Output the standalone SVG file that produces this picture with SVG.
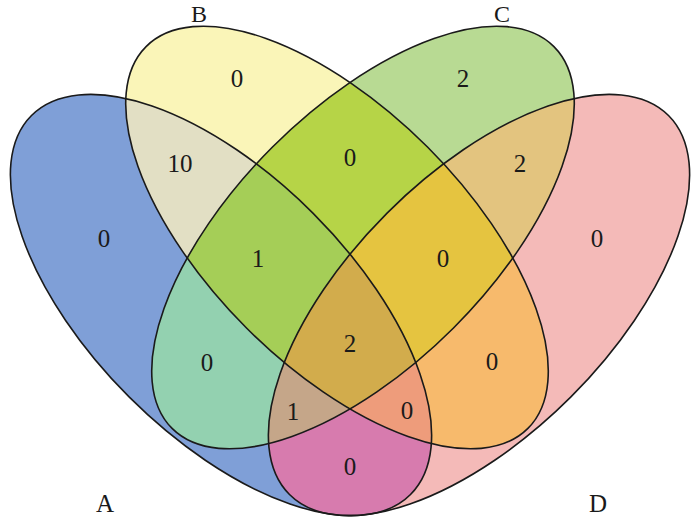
<svg xmlns="http://www.w3.org/2000/svg" xmlns:xlink="http://www.w3.org/1999/xlink" width="700" height="525" viewBox="0 0 700 525">
<style>
.out{fill:none;stroke:#1a1a1a;stroke-width:1.6}
.t{font-family:"Liberation Serif","Times New Roman",serif;font-size:25px;fill:#1a1a1a;text-anchor:middle}
.lt{font-size:24px}
</style>
<defs>
<ellipse id="eA" cx="221" cy="305" rx="268" ry="130" transform="rotate(45 221 305)"/>
<ellipse id="eB" cx="337" cy="237.5" rx="270" ry="128" transform="rotate(45 337 237.5)"/>
<ellipse id="eC" cx="363" cy="237.5" rx="270" ry="128" transform="rotate(-45 363 237.5)"/>
<ellipse id="eD" cx="479" cy="305" rx="268" ry="130" transform="rotate(-45 479 305)"/>
<clipPath id="cA"><use xlink:href="#eA"/></clipPath>
<clipPath id="cB"><use xlink:href="#eB"/></clipPath>
<clipPath id="cC"><use xlink:href="#eC"/></clipPath>
<clipPath id="cD"><use xlink:href="#eD"/></clipPath>
</defs>
<rect width="700" height="525" fill="#ffffff"/>
<g id="regions">
<use xlink:href="#eA" fill="#7F9FD7"/>
<use xlink:href="#eB" fill="#FAF5B8"/>
<use xlink:href="#eC" fill="#B8DA93"/>
<use xlink:href="#eD" fill="#F4BAB8"/>
<use xlink:href="#eB" clip-path="url(#cA)" fill="#E2DFC4"/>
<use xlink:href="#eC" clip-path="url(#cA)" fill="#93D1B0"/>
<use xlink:href="#eD" clip-path="url(#cA)" fill="#D77BAE"/>
<use xlink:href="#eC" clip-path="url(#cB)" fill="#B6D447"/>
<use xlink:href="#eD" clip-path="url(#cB)" fill="#F7BA6C"/>
<use xlink:href="#eD" clip-path="url(#cC)" fill="#E3C47F"/>
<g clip-path="url(#cA)"><use xlink:href="#eC" clip-path="url(#cB)" fill="#A5CE57"/></g>
<g clip-path="url(#cA)"><use xlink:href="#eD" clip-path="url(#cB)" fill="#EE9C7B"/></g>
<g clip-path="url(#cA)"><use xlink:href="#eD" clip-path="url(#cC)" fill="#C5A689"/></g>
<g clip-path="url(#cB)"><use xlink:href="#eD" clip-path="url(#cC)" fill="#E5C440"/></g>
<g clip-path="url(#cA)"><g clip-path="url(#cB)"><use xlink:href="#eD" clip-path="url(#cC)" fill="#D2AC4C"/></g></g>
</g>
<g id="set-A"><use xlink:href="#eA" class="out"/><text class="t" x="105" y="512">A</text></g>
<g id="set-B"><use xlink:href="#eB" class="out"/><text class="t lt" x="199" y="22">B</text></g>
<g id="set-C"><use xlink:href="#eC" class="out"/><text class="t lt" x="502" y="22">C</text></g>
<g id="set-D"><use xlink:href="#eD" class="out"/><text class="t" x="598" y="512">D</text></g>
<g id="counts">
<text class="t" x="104" y="247">0</text>
<text class="t" x="180" y="172">10</text>
<text class="t" x="237" y="87">0</text>
<text class="t" x="350" y="166">0</text>
<text class="t" x="463" y="87">2</text>
<text class="t" x="520" y="172">2</text>
<text class="t" x="597" y="247">0</text>
<text class="t" x="258" y="267">1</text>
<text class="t" x="443" y="267">0</text>
<text class="t" x="350" y="352">2</text>
<text class="t" x="207" y="371">0</text>
<text class="t" x="492" y="370">0</text>
<text class="t" x="293" y="420">1</text>
<text class="t" x="407" y="419">0</text>
<text class="t" x="350" y="475">0</text>
</g>
<g id="connectors"/>
</svg>
